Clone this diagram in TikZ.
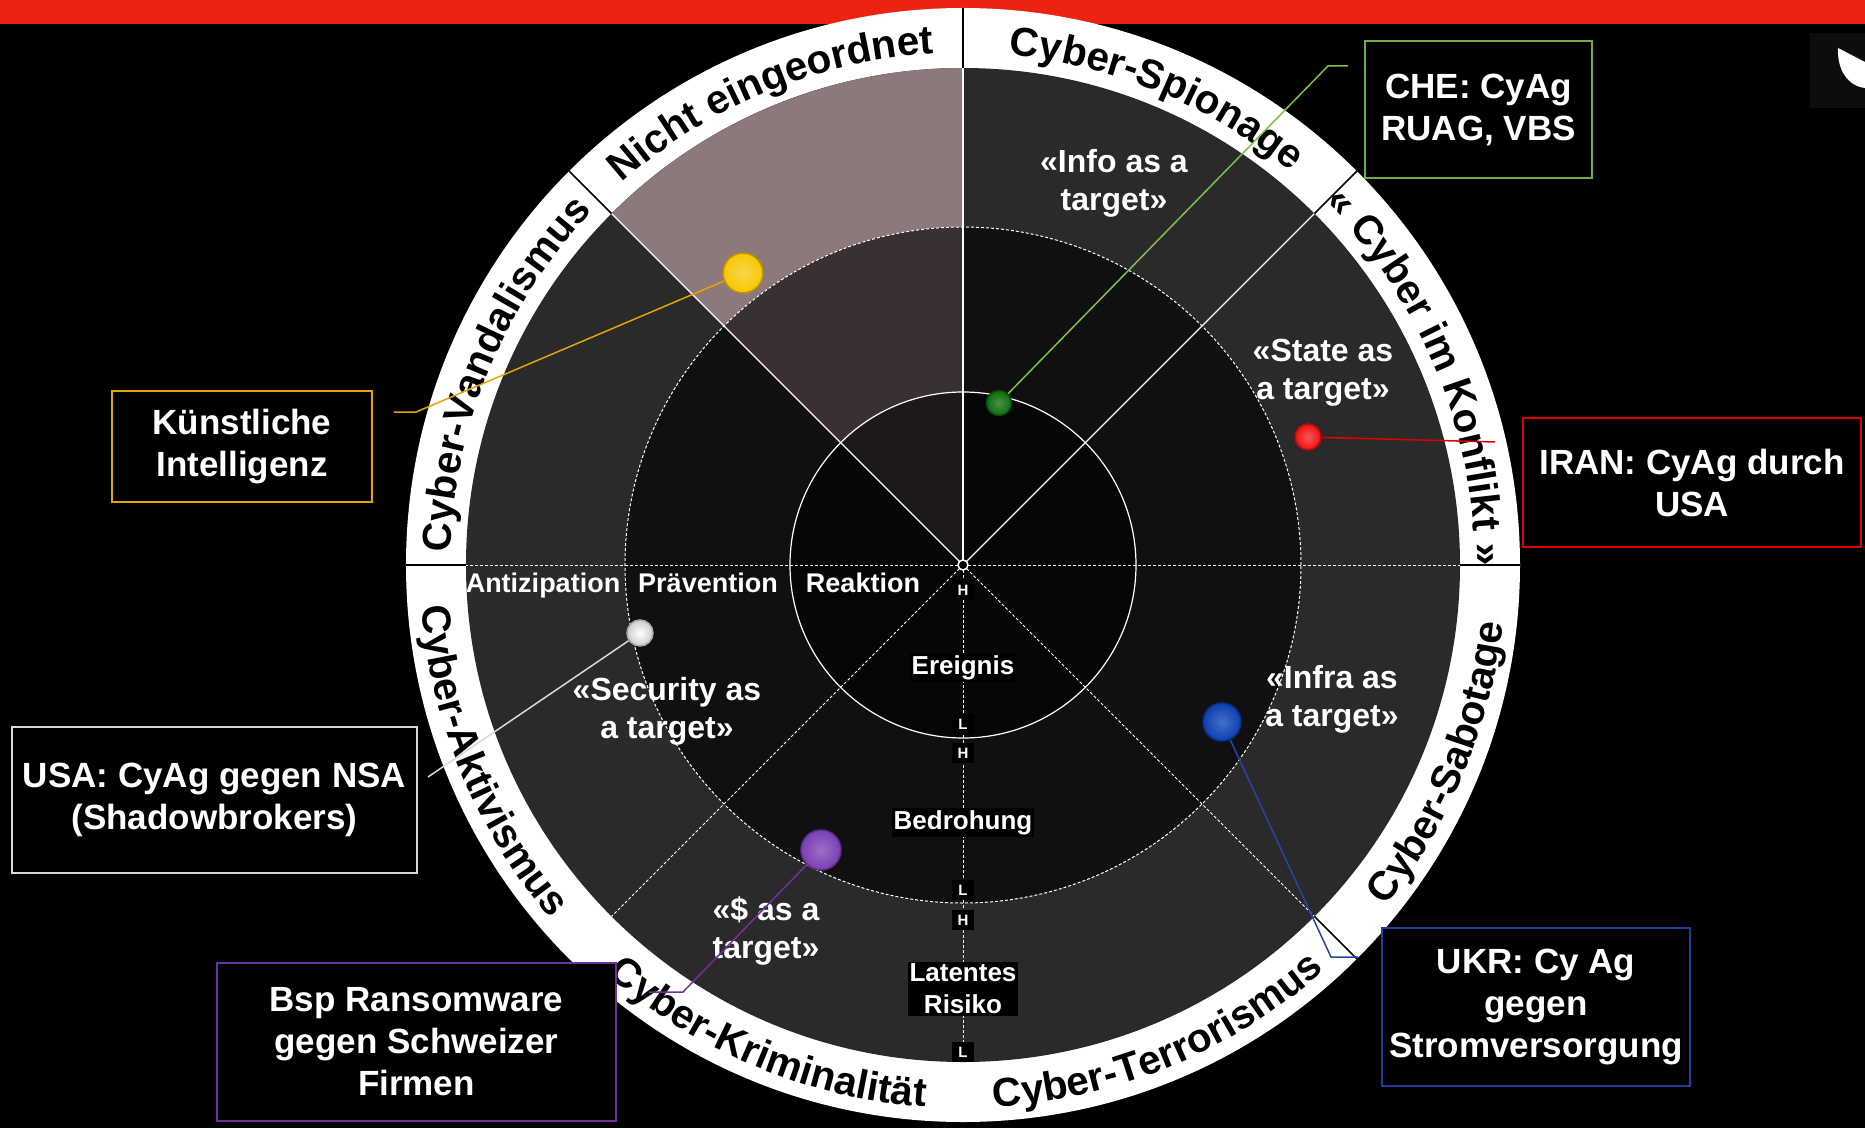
\documentclass[tikz,border=0pt]{standalone}
\usepackage{fontspec}
\setmainfont{Liberation Sans}
\usetikzlibrary{decorations.text}
\definecolor{redbar}{HTML}{EE2210}
\definecolor{outerc}{HTML}{2A2A2A}
\definecolor{midc}{HTML}{101010}
\definecolor{innerc}{HTML}{060606}
\definecolor{pinkouter}{HTML}{8C7A7B}
\definecolor{pinkmid}{HTML}{3A3031}
\definecolor{pinkinner}{HTML}{1E1919}
\definecolor{ydot}{HTML}{F7C600}
\definecolor{yline}{HTML}{E6A400}
\definecolor{gdot}{HTML}{0B6E0B}
\definecolor{gline}{HTML}{7DC242}
\definecolor{gbox}{HTML}{70AD47}
\definecolor{rdot}{HTML}{F01010}
\definecolor{rline}{HTML}{E00000}
\definecolor{wdot}{HTML}{F2F2F2}
\definecolor{wline}{HTML}{D9D9D9}
\definecolor{pdot}{HTML}{7B3FB5}
\definecolor{pline}{HTML}{7030A0}
\definecolor{bdot}{HTML}{0B3FB3}
\definecolor{bline}{HTML}{2446A8}
\definecolor{bbox}{HTML}{1F3E9C}
\definecolor{logobg}{HTML}{0D0D0D}
\newcommand\ringfont{\fontsize{40.5}{40.5}\selectfont\bfseries}
\begin{document}
\begin{tikzpicture}[x=1pt,y=1pt,
  solidw/.style={white, line width=1.2},
  dashw/.style={white, line width=1, dash pattern=on 3pt off 2pt},
  sep/.style={black, line width=1.5},
  ringtxt/.style={decorate, decoration={text along path, text color=black, text align=center, text={|\ringfont|#1}}},
  dotn/.style={circle, inner sep=0, minimum size=#1, line width=1.5},
  conn/.style={line width=1.5},
  annot/.style={draw, line width=2, fill=black, text=white, font=\fontsize{35}{42}\selectfont\bfseries, align=center, inner sep=0},
  tgt/.style={text=white, font=\fontsize{32}{38}\selectfont\bfseries, align=center, inner sep=0},
  phase/.style={text=white, font=\fontsize{27}{27}\selectfont\bfseries, anchor=base, inner sep=0},
  axlab/.style={fill=black, text=white, font=\fontsize{26}{32}\selectfont\bfseries, align=center, inner sep=2},
  hl/.style={fill=black, text=white, font=\fontsize{15}{15}\selectfont\bfseries, inner sep=0, minimum width=22, minimum height=20}
]
\useasboundingbox (-963,-563) rectangle (902,565);
\fill[black] (-963,-563) rectangle (902,565);
\fill[redbar] (-963,541) rectangle (902,565);
% logo fragment top right
\fill[logobg] (847,532) rectangle (902,457);
\fill[white] (875,517) -- (902,503) -- (902,477) .. controls (885,479) and (874,495) .. (875,517);
% ring and disk
\fill[white] (0,0) circle[radius=557];
\fill[outerc] (0,0) circle[radius=497];
\fill[pinkouter] (0,0) -- (90:497) arc[start angle=90, end angle=135, radius=497] -- cycle;
\fill[midc] (0,0) circle[radius=338];
\fill[pinkmid] (0,0) -- (90:338) arc[start angle=90, end angle=135, radius=338] -- cycle;
\fill[innerc] (0,0) circle[radius=173];
\fill[pinkinner] (0,0) -- (90:173) arc[start angle=90, end angle=135, radius=173] -- cycle;
% radial lines
\foreach \a in {45,90,135} \draw[solidw] (0,0) -- (\a:497);
\foreach \a in {0,180,225,270,315} \draw[dashw] (0,0) -- (\a:497);
\foreach \a in {0,45,90,135,180,315} \draw[sep] (\a:497) -- (\a:557);
\draw[dashw] (0,0) circle[radius=338];
\draw[solidw] (0,0) circle[radius=173];
\node[circle, draw=white, fill=black, line width=1.5, minimum size=10, inner sep=0] (ctr) at (0,0) {};
% ring labels
\path[ringtxt={Nicht eingeordnet}] (140:512) arc[start angle=140, end angle=85, radius=512];
\path[ringtxt={Cyber-Spionage}] (95:512) arc[start angle=95, end angle=40, radius=512];
\path[ringtxt={« Cyber im Konflikt »}] (50:512) arc[start angle=50, end angle=-5, radius=512];
\path[ringtxt={Cyber-Vandalismus}] (185:512) arc[start angle=185, end angle=130, radius=512];
\path[ringtxt={Cyber-Aktivismus}] (175:543) arc[start angle=175, end angle=230, radius=543];
\path[ringtxt={Cyber-Kriminalität}] (220:543) arc[start angle=220, end angle=275, radius=543];
\path[ringtxt={Cyber-Terrorismus}] (265:543) arc[start angle=265, end angle=320, radius=543];
\path[ringtxt={Cyber-Sabotage}] (310:543) arc[start angle=310, end angle=365, radius=543];
% phase labels
\node[phase] (antz) at (-420,-27) {Antizipation};
\node[phase] (prev) at (-255,-27) {Prävention};
\node[phase] (reak) at (-100,-27) {Reaktion};
% axis labels
\node[axlab, anchor=base] (ereig) at (0,-109) {Ereignis};
\node[axlab, anchor=base] (bedro) at (0,-264) {Bedrohung};
\node[axlab] (latent) at (0,-424) {Latentes\\Risiko};
\node[hl] (h1) at (0,-25) {H};
\node[hl] (l1) at (0,-159) {L};
\node[hl] (h2) at (0,-188) {H};
\node[hl] (l2) at (0,-325) {L};
\node[hl] (h3) at (0,-355) {H};
\node[hl] (l3) at (0,-487) {L};
% target labels
\node[tgt] (tinfo) at (151,382) {«Info as a\\target»};
\node[tgt] (tstate) at (360,192) {«State as\\a target»};
\node[tgt] (tinfra) at (369,-134) {«Infra as\\a target»};
\node[tgt] (tsec) at (-296,-146) {«Security as\\a target»};
\node[tgt] (tmoney) at (-197,-366) {«\$ as a\\target»};
% annotation boxes
\node[annot, draw=yline, minimum width=260, minimum height=111] (ki) at (-721,118.5) {Künstliche\\Intelligenz};
\node[annot, draw=wline, minimum width=405, minimum height=146] (usa) at (-748.5,-235) {USA: CyAg gegen NSA\\(Shadowbrokers)};
\node[annot, draw=gbox, minimum width=227, minimum height=137] (che) at (515.5,455.5) {CHE: CyAg\\RUAG, VBS};
\node[annot, draw=rline, minimum width=338, minimum height=129] (iran) at (729,82.5) {IRAN: CyAg durch\\USA};
\node[annot, draw=bbox, minimum width=308, minimum height=158] (ukr) at (573,-442) {UKR: Cy Ag\\gegen\\Stromversorgung};
\node[annot, draw=pline, minimum width=399, minimum height=158] (bsp) at (-546.5,-477) {Bsp Ransomware\\gegen Schweizer\\Firmen};
% dots
\node[dotn=40, inner color=ydot!70!white, outer color=ydot, draw=ydot!75!black] (yd) at (-220,292) {};
\node[dotn=25, inner color=gdot!75!white, outer color=gdot, draw=gdot!70!black] (gd) at (36,162) {};
\node[dotn=26, inner color=rdot!70!white, outer color=rdot, draw=rdot!75!black] (rd) at (345,128) {};
\node[dotn=26, inner color=white, outer color=wdot!85!black, draw=wdot!70!black] (wd) at (-323,-68) {};
\node[dotn=40, inner color=pdot!75!white, outer color=pdot, draw=pdot!75!black] (pd) at (-142,-285) {};
\node[dotn=38, inner color=bdot!75!white, outer color=bdot, draw=bdot!75!black] (bd) at (259,-157) {};
% connector end points
\coordinate (kiA) at (-569,153);
\coordinate (kiB) at (-547,153);
\coordinate (cheA) at (385,499);
\coordinate (cheB) at (365,499);
\coordinate (iranA) at (532,123);
\coordinate (usaA) at (-535,-212);
\coordinate (bspA) at (-280,-427);
\coordinate (bspB) at (-314,-427);
\coordinate (ukrA) at (368,-392);
\coordinate (ukrB) at (395,-392);
% connectors
\draw[conn, yline] (kiA) -- (kiB) -- (yd);
\draw[conn, gline] (cheA) -- (cheB) -- (gd);
\draw[conn, rline] (rd) -- (iranA);
\draw[conn, wline] (usaA) -- (wd);
\draw[conn, pline] (pd) -- (bspA) -- (bspB);
\draw[conn, bline] (bd) -- (ukrA) -- (ukrB);
\end{tikzpicture}
\end{document}
